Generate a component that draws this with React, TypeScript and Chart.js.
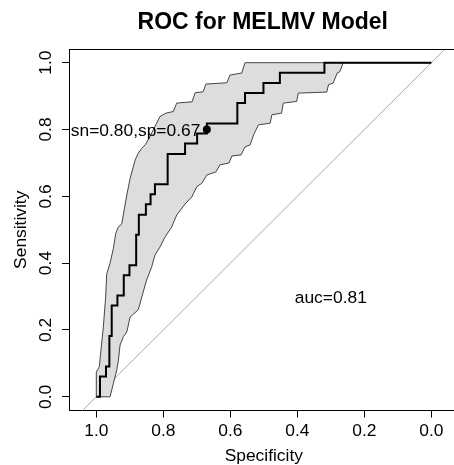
import { useEffect, useRef } from "react";
import { Chart, registerables } from "chart.js";

Chart.register(...registerables);

const chartTitle = "ROC for MELMV Model";
const xTitle = "Specificity";
const yTitle = "Sensitivity";
const xTicks = [1.0, 0.8, 0.6, 0.4, 0.2, 0.0];
const yTicks = [0.0, 0.2, 0.4, 0.6, 0.8, 1.0];
const xLimits = [-0.0815, 1.0815];
const yLimits = [-0.041, 1.041];

// ROC step curve (specificity, sensitivity)
const rocSpec = [1.0, 0.989, 0.971, 0.961, 0.954, 0.937, 0.918, 0.901, 0.881, 0.873, 0.852, 0.838, 0.825, 0.787, 0.735, 0.699, 0.67, 0.579, 0.556, 0.501, 0.452, 0.319, 0.0];
const rocSens = [0.0, 0.061, 0.091, 0.182, 0.273, 0.303, 0.364, 0.394, 0.485, 0.545, 0.576, 0.606, 0.636, 0.727, 0.758, 0.788, 0.818, 0.879, 0.909, 0.939, 0.97, 1.0, 1.0];

// Confidence band, upper boundary
const ciUpperSpec = [1.0, 1.0, 0.991, 0.987, 0.979, 0.972, 0.969, 0.959, 0.949, 0.942, 0.934, 0.924, 0.919, 0.909, 0.899, 0.884, 0.875, 0.864, 0.854, 0.84, 0.825, 0.81, 0.792, 0.77, 0.76, 0.75, 0.714, 0.705, 0.681, 0.673, 0.61, 0.601, 0.566, 0.556, 0.0];
const ciUpperSens = [0.0, 0.074, 0.09, 0.131, 0.209, 0.299, 0.367, 0.4, 0.444, 0.489, 0.509, 0.517, 0.547, 0.604, 0.654, 0.709, 0.729, 0.744, 0.754, 0.779, 0.809, 0.839, 0.849, 0.854, 0.879, 0.88, 0.883, 0.91, 0.913, 0.936, 0.94, 0.963, 0.969, 1.0, 1.0];

// Confidence band, lower boundary
const ciLowerSpec = [1.0, 0.959, 0.949, 0.939, 0.934, 0.929, 0.919, 0.909, 0.899, 0.875, 0.85, 0.835, 0.825, 0.81, 0.795, 0.775, 0.76, 0.735, 0.715, 0.7, 0.685, 0.67, 0.643, 0.631, 0.604, 0.595, 0.568, 0.556, 0.541, 0.53, 0.516, 0.481, 0.476, 0.447, 0.442, 0.402, 0.397, 0.312, 0.307, 0.293, 0.281, 0.273, 0.263, 0.0];
const ciLowerSens = [0.0, 0.0, 0.04, 0.08, 0.11, 0.155, 0.18, 0.194, 0.239, 0.26, 0.349, 0.388, 0.424, 0.448, 0.478, 0.508, 0.544, 0.577, 0.598, 0.629, 0.639, 0.664, 0.673, 0.694, 0.7, 0.721, 0.724, 0.748, 0.754, 0.785, 0.814, 0.819, 0.844, 0.849, 0.879, 0.884, 0.909, 0.912, 0.934, 0.939, 0.969, 0.973, 1.0, 1.0];

const identitySpec = [1.2, -0.2];
const identitySens = [-0.2, 1.2];

const bestSpec = [0.67];
const bestSens = [0.8];
const bestLabel = "sn=0.80,sp=0.67";
const aucLabel = "auc=0.81";
const aucSpec = 0.3;
const aucSens = 0.3;

const FONT = '"Liberation Sans", Arial, Helvetica, sans-serif';

const pts = (xs: number[], ys: number[]) => xs.map((x, i) => ({ x, y: ys[i] }));

export default function App() {
  const ref = useRef<HTMLCanvasElement>(null);

  useEffect(() => {
    const canvas = ref.current;
    if (!canvas) return;

    const band = [...pts(ciUpperSpec, ciUpperSens), ...pts(ciLowerSpec, ciLowerSens).reverse()];

    const textPlugin = {
      id: "rText",
      afterDraw(chart: any) {
        const { ctx, chartArea: a, scales } = chart;
        const x = scales.x;
        const y = scales.y;
        ctx.save();
        ctx.strokeStyle = "#000";
        ctx.lineWidth = 1;
        const ty = Math.round(a.top) + 0.5;
        ctx.beginPath();
        ctx.moveTo(a.left, ty);
        ctx.lineTo(a.right, ty);
        ctx.stroke();

        ctx.fillStyle = "#000";
        const cx = (a.left + a.right) / 2;
        const cy = (a.top + a.bottom) / 2;
        ctx.textBaseline = "alphabetic";
        ctx.textAlign = "center";
        ctx.font = `bold 23px ${FONT}`;
        ctx.fillText(chartTitle, cx - 1, a.top - 20);

        ctx.font = `17.4px ${FONT}`;
        xTicks.forEach((v) => ctx.fillText(v.toFixed(1), x.getPixelForValue(v), a.bottom + 25.5));
        ctx.fillText(xTitle, cx, a.bottom + 50.5);

        yTicks.forEach((v) => {
          ctx.save();
          ctx.translate(a.left - 18, y.getPixelForValue(v));
          ctx.rotate(-Math.PI / 2);
          ctx.fillText(v.toFixed(1), 0, 0);
          ctx.restore();
        });
        ctx.save();
        ctx.translate(a.left - 43, cy);
        ctx.rotate(-Math.PI / 2);
        ctx.fillText(yTitle, 0, 0);
        ctx.restore();

        ctx.textAlign = "right";
        ctx.fillText(bestLabel, x.getPixelForValue(bestSpec[0]) - 6.5, y.getPixelForValue(bestSens[0]) + 6.3);

        ctx.textAlign = "center";
        ctx.fillText(aucLabel, x.getPixelForValue(aucSpec), y.getPixelForValue(aucSens) + 6.5);
        ctx.restore();
      },
    };

    const axisCommon = {
      type: "linear" as const,
      ticks: { display: false },
      grid: {
        drawOnChartArea: false,
        drawTicks: true,
        tickLength: 7,
        color: "#000",
        tickColor: "#000",
        lineWidth: 1,
      },
      border: { display: true, color: "#000", width: 1 },
    };

    const chart = new Chart(canvas, {
      type: "line",
      data: {
        datasets: [
          {
            label: "best",
            data: pts(bestSpec, bestSens),
            showLine: false,
            pointRadius: 4,
            pointBackgroundColor: "#000",
            pointBorderColor: "#000",
            pointBorderWidth: 0,
          },
          {
            label: "roc",
            data: pts(rocSpec, rocSens),
            borderColor: "#000",
            borderWidth: 2,
            pointRadius: 0,
            stepped: "before",
            fill: false,
          },
          {
            label: "ci",
            data: band,
            borderColor: "#444",
            borderWidth: 1,
            backgroundColor: "#dddddd",
            fill: "shape",
            pointRadius: 0,
          },
          {
            label: "identity",
            data: pts(identitySpec, identitySens),
            borderColor: "#aaaaaa",
            borderWidth: 1,
            pointRadius: 0,
            fill: false,
          },
        ],
      },
      options: {
        animation: false,
        responsive: false,
        maintainAspectRatio: false,
        events: [],
        layout: { padding: { top: 49, right: 11.4, left: 0, bottom: 0 } },
        plugins: {
          legend: { display: false },
          tooltip: { enabled: false },
          title: { display: false },
        },
        scales: {
          x: {
            ...axisCommon,
            reverse: true,
            min: xLimits[0],
            max: xLimits[1],
            afterBuildTicks: (s: any) => {
              s.ticks = xTicks.map((v) => ({ value: v }));
            },
            afterFit: (s: any) => {
              s.height = 54.5;
            },
          },
          y: {
            ...axisCommon,
            min: yLimits[0],
            max: yLimits[1],
            afterBuildTicks: (s: any) => {
              s.ticks = yTicks.map((v) => ({ value: v }));
            },
            afterFit: (s: any) => {
              s.width = 69;
            },
          },
        },
      } as any,
      plugins: [textPlugin],
    });

    return () => chart.destroy();
  }, []);

  return (
    <div
      style={{
        position: "fixed",
        left: 0,
        top: 0,
        width: 454,
        height: 465,
        overflow: "hidden",
        background: "#fff",
      }}
    >
      <canvas ref={ref} width={470} height={465} style={{ display: "block", width: 470, height: 465 }} />
    </div>
  );
}
